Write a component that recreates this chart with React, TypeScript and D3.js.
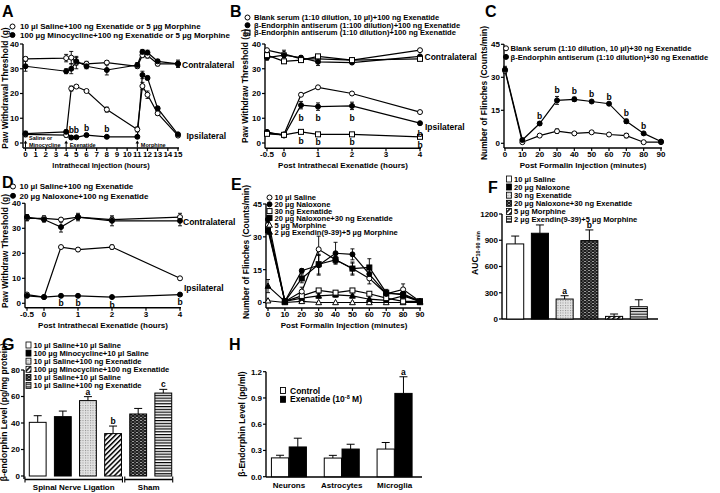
import React from 'react';
import * as d3 from 'd3';

const FONT = "'Liberation Sans', Arial, Helvetica, sans-serif";

// ---------------- Panel A ----------------
const aHours = [0, 4, 4.5, 5, 6, 8, 11, 11.5, 12, 13, 15];
const aSalineContra = [34, 34.3, 34.5, 32.5, 32, 32.5, 31, 35.5, 35.3, 32, 32];
const aSalineContraErr = [0.8, 1.5, 2.5, 2.5, 1, 0.8, 0.8, 1, 1, 0.8, 1.5];
const aMinoContra = [31, 29, 30, 33, 31, 29.5, 31.5, 36.8, 36.5, 33, 32];
const aMinoContraErr = [2, 1, 2, 1.5, 1, 2, 1, 1, 1, 0.8, 1];
const aSalineIpsi = [3.5, 3.2, 22, 22.8, 21, 13.5, 5.5, 23, 19.5, 12, 3];
const aSalineIpsiErr = [1, 0.8, 1, 0.5, 0.5, 1, 1, 1.5, 1.5, 0.8, 0.5];
const aMinoIpsi = [3.8, 4.5, 2.2, 2.3, 3.2, 2.5, 2.5, 27.5, 26.3, 14, 3.5];
const aMinoIpsiErr = [1, 0.8, 0.5, 0.5, 0.5, 0.5, 0.5, 1.5, 0.8, 0.8, 0.5];
const aSigHours = [4.5, 5, 6, 8];
const aSigValues = [2.2, 2.3, 3.2, 2.5];
const aHourTicks = d3.range(0, 16);
const aThresholdTicks = [0, 10, 20, 30, 40];
const aLegend = [
  '10 µl Saline+100 ng Exenatide or 5 µg Morphine',
  '100 µg Minocycline+100 ng Exenatide or 5 µg Morphine',
];
const aInjectionHours = [0, 4, 11];
const aInjectionLabels = [['Saline or', 'Minocycline'], ['Exenatide'], ['Morphine']];

// ---------------- Panel B ----------------
const bHours = [-0.5, 0, 0.5, 1, 2, 4];
const bBlankContra = [37.5, 36, 34, 34, 33.5, 37.5];
const bBlankContraErr = [0.5, 1.5, 0.8, 0.8, 0.5, 0.5];
const bAnti100Contra = [34.5, 35.5, 34.5, 32.8, 32.5, 35];
const bAnti100ContraErr = [1, 1, 0.8, 1.5, 0.5, 0.5];
const bAnti10Contra = [35.5, 33, 33.5, 35, 33.5, 34];
const bAnti10ContraErr = [0.8, 0.8, 0.5, 0.5, 0.5, 0.5];
const bBlankIpsi = [4, 3.5, 19.5, 22.5, 20, 12.5];
const bBlankIpsiErr = [0.5, 0.5, 0.5, 0.5, 0.5, 0.5];
const bAnti100Ipsi = [4.5, 3, 15.3, 14.7, 15, 8];
const bAnti100IpsiErr = [0.5, 0.5, 1.5, 1.5, 1.5, 0.5];
const bAnti10Ipsi = [3.7, 3.3, 4.5, 3.5, 3.5, 2.5];
const bAnti10IpsiErr = [0.5, 0.5, 0.5, 0.5, 0.5, 0.5];
const bSigHours = [0.5, 1, 2, 4];
const bSigFilledAt = [10.2, 10, 10, 3.8];
const bSigSquareAt = [0.8, 0.3, 0.3, -1];
const bHourTicks = [-0.5, 0, 1, 2, 3, 4];
const bThresholdTicks = [0, 10, 20, 30, 40];
const bLegend = [
  'Blank serum (1:10 dilution, 10 µl)+100 ng Exenatide',
  'β-Endorphin antiserum (1:100 dilution)+100 ng Exenatide',
  'β-Endorphin antiserum (1:10 dilution)+100 ng Exenatide',
];

// ---------------- Panel C ----------------
const cMinutes = [0, 10, 20, 30, 40, 50, 60, 70, 80, 90];
const cBlank = [33, 0.5, 3.5, 5.5, 4.5, 5, 4, 3.5, 0.5, 0.5];
const cBlankErr = [1, 0.3, 0.5, 1, 0.5, 0.5, 0.5, 1, 0.3, 0.3];
const cAnti = [33.5, 1.5, 9, 19.5, 20, 19, 18, 10, 4.5, 0.8];
const cAntiErr = [1.5, 0.5, 0.8, 1.8, 1, 0.5, 0.5, 1, 0.5, 0.3];
const cSig = ['', '', 'b', 'b', 'b', 'b', 'b', 'b', 'b', ''];
const cMinuteTicks = [0, 10, 20, 30, 40, 50, 60, 70, 80, 90];
const cFlinchTicks = [0, 15, 30, 45];
const cLegend = [
  'Blank serum (1:10 dilution, 10 µl)+30 ng Exenatide',
  'β-Endorphin antiserum (1:10 dilution)+30 ng Exenatide',
];

// ---------------- Panel D ----------------
const dHours = [-0.5, 0, 0.5, 1, 2, 4];
const dSalineContra = [34, 34, 33.5, 34.5, 33.5, 34.5];
const dSalineContraErr = [1, 1, 0.5, 1, 1, 1.5];
const dNaloxContra = [34.5, 33.5, 30.5, 34.5, 33, 33];
const dNaloxContraErr = [1, 1, 2, 1.5, 2, 2];
const dSalineIpsi = [3.5, 2.5, 22.5, 21.5, 22.5, 10];
const dSalineIpsiErr = [0.5, 0.5, 0.5, 0.8, 0.8, 0.5];
const dNaloxIpsi = [3, 2.5, 3, 3, 2.5, 3.5];
const dNaloxIpsiErr = [0.5, 0.5, 0.4, 0.4, 0.4, 0.4];
const dSigHours = [0.5, 1, 2, 4];
const dHourTicks = [-0.5, 0, 1, 2, 3, 4];
const dThresholdTicks = [0, 10, 20, 30, 40];
const dLegend = ['10 µl Saline+100 ng Exenatide', '20 µg Naloxone+100 ng Exenatide'];

// ---------------- Panel E ----------------
const eMinutes = [0, 10, 20, 30, 40, 50, 60, 70, 80, 90];
const eSaline = [35.4, 0.5, 5, 24.3, 19.5, 15.5, 11, 4, 6, 0.5];
const eSalineErr = [2, 0.3, 2, 6, 1.5, 3, 2.5, 1, 2.5, 0.3];
const eNaloxone = [38, 0.5, 14.5, 17, 22.5, 22, 13, 4, 4, 0.5];
const eNaloxoneErr = [1.5, 0.3, 1, 4.5, 5, 2.5, 2, 1, 1, 0.3];
const eExenatide = [34, 0.5, 3, 5.5, 4.5, 5.5, 4, 2, 0.5, 0.5];
const eExenatideErr = [1, 0.3, 0.8, 0.8, 0.8, 0.8, 0.8, 0.5, 0.3, 0.3];
const eNalExen = [33, 0.5, 11, 17.5, 19.5, 15.5, 16, 4.5, 3.5, 0.5];
const eNalExenErr = [1, 0.3, 2, 4.5, 1.5, 2.5, 4, 1.5, 1, 0.3];
const eMorphine = [0.8, 0, 0.5, 0, 0, 0, 0, 0, 0, 0];
const eMorphineErr = [0.3, 0, 0.3, 0, 0, 0, 0, 0, 0, 0];
const eExendinMorph = [7.5, 0.5, 2, 3, 3.5, 3, 1.5, 1, 3, 0.5];
const eExendinMorphErr = [3, 0.3, 0.5, 1, 1, 0.8, 0.5, 0.5, 1, 0.3];
const eMinuteTicks = [0, 10, 20, 30, 40, 50, 60, 70, 80, 90];
const eFlinchTicks = [0, 15, 30, 45];
const eLegend = [
  '10 µl Saline',
  '20 µg Naloxone',
  '30 ng Exenatide',
  '20 µg Naloxone+30 ng Exenatide',
  '5 µg Morphine',
  '2 µg Exendin(9-39)+5 µg Morphine',
];

// ---------------- Panel F ----------------
const fGroups = [
  '10 µl Saline',
  '20 µg Naloxone',
  '30 ng Exenatide',
  '20 µg Naloxone+30 ng Exenatide',
  '5 µg Morphine',
  '2 µg Exendin(9-39)+5 µg Morphine',
];
const fAUC = [858, 980, 228, 896, 30, 140];
const fAUCErr = [90, 95, 38, 122, 27, 80];
const fSig = ['', '', 'a', 'b', '', ''];
const fTicks = [0, 300, 600, 900, 1200];

// ---------------- Panel G ----------------
const gGroups = [
  '10 µl Saline+10 µl Saline',
  '100 µg Minocycline+10 µl Saline',
  '10 µl Saline+100 ng Exenatide',
  '100 µg Minocycline+100 ng Exenatide',
  '10 µl Saline+10 µl Saline ',
  '10 µl Saline+100 ng Exenatide ',
];
const gLevel = [40.5, 44.8, 56.9, 32, 46.8, 62.6];
const gLevelErr = [5, 4.2, 3, 5.7, 4.2, 2.8];
const gSig = ['', '', 'a', 'b', '', 'c'];
const gTicks = [0, 20, 40, 60, 80];
const gConditions = ['Spinal Nerve Ligation', 'Sham'];
const gConditionSpans = [[0, 3], [4, 5]];

// ---------------- Panel H ----------------
const hCells = ['Neurons', 'Astrocytes', 'Microglia'];
const hTreatments = ['Control', 'Exenatide'];
const hControl = [0.215, 0.213, 0.316];
const hControlErr = [0.03, 0.031, 0.075];
const hExenatide = [0.34, 0.316, 0.952];
const hExenatideErr = [0.1, 0.055, 0.19];
const hExenatideSig = ['', '', 'a'];
const hTicks = [0, 0.3, 0.6, 0.9, 1.2];

type Scale = (v: number) => number;
type MarkerType = 'oc' | 'fc' | 'os' | 'fs' | 'ot' | 'ft';

function Marker({ type, x, y }: { type: MarkerType; x: number; y: number }) {
  const r = 2.5;
  const fill = type[0] === 'f' ? '#000' : '#fff';
  const p = { fill, stroke: '#000', strokeWidth: 1 };
  if (type[1] === 'c') return <circle cx={x} cy={y} r={r} {...p} />;
  if (type[1] === 's') return <rect x={x - r} y={y - r} width={2 * r} height={2 * r} {...p} />;
  return <path d={`M${x},${y - r - 0.6}L${x + r + 0.4},${y + r - 0.3}L${x - r - 0.4},${y + r - 0.3}Z`} {...p} />;
}

function ErrorBars({ xs, ys, errs, x, y }: any) {
  return (
    <g stroke="#000" strokeWidth={0.9}>
      {ys.map((v: number, i: number) => {
        const e = errs[i];
        if (!e) return null;
        const cx = x(xs[i]);
        const t = y(v + e);
        const b = y(v - e);
        return (
          <g key={i}>
            <line x1={cx} x2={cx} y1={t} y2={b} />
            <line x1={cx - 2} x2={cx + 2} y1={t} y2={t} />
            <line x1={cx - 2} x2={cx + 2} y1={b} y2={b} />
          </g>
        );
      })}
    </g>
  );
}

function SeriesLine({ xs, ys, x, y }: any) {
  const d = d3.line<number>().x((_, i) => x(xs[i])).y((v) => y(v))(ys) || '';
  return <path d={d} fill="none" stroke="#000" strokeWidth={1.2} />;
}

function SeriesMarkers({ xs, ys, x, y, marker }: any) {
  return (
    <g>
      {ys.map((v: number, i: number) => (
        <Marker key={i} type={marker} x={x(xs[i])} y={y(v)} />
      ))}
    </g>
  );
}

function LineGroup({ series, x, y }: { series: any[]; x: Scale; y: Scale }) {
  return (
    <g>
      {series.map((s, i) => (
        <ErrorBars key={'e' + i} xs={s.xs} ys={s.ys} errs={s.errs} x={x} y={y} />
      ))}
      {series.map((s, i) => (
        <SeriesLine key={'l' + i} xs={s.xs} ys={s.ys} x={x} y={y} />
      ))}
      {series.map((s, i) => (
        <SeriesMarkers key={'m' + i} xs={s.xs} ys={s.ys} x={x} y={y} marker={s.marker} />
      ))}
    </g>
  );
}

function YAxis({ x, scale, ticks, top, bottom, fmt }: any) {
  return (
    <g>
      <line x1={x} x2={x} y1={top} y2={bottom} stroke="#000" strokeWidth={1.4} />
      {ticks.map((t: number) => (
        <g key={t}>
          <line x1={x - 3} x2={x} y1={scale(t)} y2={scale(t)} stroke="#000" strokeWidth={1.2} />
          <text x={x - 4} y={scale(t) + 2.9} textAnchor="end" fontSize={8}>
            {fmt ? fmt(t) : String(t)}
          </text>
        </g>
      ))}
    </g>
  );
}

function XAxis({ y, scale, ticks, left, right, fmt, labelY }: any) {
  return (
    <g>
      <line x1={left} x2={right} y1={y} y2={y} stroke="#000" strokeWidth={1.4} />
      {ticks.map((t: number) => (
        <g key={t}>
          <line x1={scale(t)} x2={scale(t)} y1={y} y2={y + 3} stroke="#000" strokeWidth={1.2} />
          <text x={scale(t)} y={labelY} textAnchor="middle" fontSize={8}>
            {fmt ? fmt(t) : String(t)}
          </text>
        </g>
      ))}
    </g>
  );
}

function VTitle({ x, y, children, size = 8.5 }: any) {
  return (
    <text transform={`translate(${x},${y}) rotate(-90)`} textAnchor="middle" fontSize={size}>
      {children}
    </text>
  );
}

function Legend({ items, markers, x, ys, textX, size = 8 }: any) {
  return (
    <g>
      {items.map((t: string, i: number) => (
        <g key={i}>
          <Marker type={markers[i]} x={x} y={ys[i]} />
          <text x={textX} y={ys[i] + 2.8} fontSize={size}>
            {t}
          </text>
        </g>
      ))}
    </g>
  );
}

function BarLegend({ items, fills, x, ys, size = 7.6 }: any) {
  return (
    <g>
      {items.map((t: string, i: number) => (
        <g key={i}>
          <rect x={x} y={ys[i] - 3} width={5} height={6} fill={fills[i]} stroke="#000" strokeWidth={0.8} />
          <text x={x + 7.5} y={ys[i] + 2.8} fontSize={size}>
            {t.trim()}
          </text>
        </g>
      ))}
    </g>
  );
}

const PanelLabel = ({ x, y, t }: any) => (
  <text x={x} y={y} fontSize={16}>
    {t}
  </text>
);

export default function App() {
  const ax = d3.scaleLinear().domain([0, 15]).range([25.5, 178]);
  const ay = d3.scaleLinear().domain([0, 40]).range([143, 44]);
  const bx = d3.scaleLinear().domain([-0.5, 4]).range([267, 420]);
  const by = d3.scaleLinear().domain([0, 40]).range([143, 44]);
  const cx = d3.scaleLinear().domain([0, 90]).range([505, 661]);
  const cy = d3.scaleLinear().domain([0, 45]).range([143.3, 44.3]);
  const dx = d3.scaleLinear().domain([-0.5, 4]).range([27, 180]);
  const dy = d3.scaleLinear().domain([0, 40]).range([303.3, 203.3]);
  const ex = d3.scaleLinear().domain([0, 90]).range([268, 420]);
  const ey = d3.scaleLinear().domain([0, 45]).range([302.5, 204]);
  const fx = d3.scaleBand<string>().domain(fGroups).range([499, 655]).padding(0.31);
  const fy = d3.scaleLinear().domain([0, 1200]).range([319, 214]);
  const gx = d3.scaleBand<string>().domain(gGroups).range([21, 180]).padding(0.33);
  const gy = d3.scaleLinear().domain([0, 80]).range([476, 370]);
  const hx = d3.scaleBand<string>().domain(hCells).range([262.5, 421]);
  const hsub = d3.scaleBand<string>().domain(hTreatments).range([-17.5, 17.5]).paddingInner(0.03);
  const hy = d3.scaleLinear().domain([0, 1.2]).range([476.7, 371.7]);

  const fFills = ['#fff', '#000', 'url(#pDots)', 'url(#pCheck)', 'url(#pDiag)', 'url(#pHStripe)'];
  const gFills = ['#fff', '#000', 'url(#pDots)', 'url(#pDiag)', 'url(#pCheck)', 'url(#pHStripe)'];

  const aSeries = [
    { xs: aHours, ys: aSalineContra, errs: aSalineContraErr, marker: 'oc' },
    { xs: aHours, ys: aMinoContra, errs: aMinoContraErr, marker: 'fc' },
    { xs: aHours, ys: aSalineIpsi, errs: aSalineIpsiErr, marker: 'oc' },
    { xs: aHours, ys: aMinoIpsi, errs: aMinoIpsiErr, marker: 'fc' },
  ];
  const bSeries = [
    { xs: bHours, ys: bBlankContra, errs: bBlankContraErr, marker: 'oc' },
    { xs: bHours, ys: bAnti100Contra, errs: bAnti100ContraErr, marker: 'fc' },
    { xs: bHours, ys: bAnti10Contra, errs: bAnti10ContraErr, marker: 'os' },
    { xs: bHours, ys: bBlankIpsi, errs: bBlankIpsiErr, marker: 'oc' },
    { xs: bHours, ys: bAnti100Ipsi, errs: bAnti100IpsiErr, marker: 'fc' },
    { xs: bHours, ys: bAnti10Ipsi, errs: bAnti10IpsiErr, marker: 'os' },
  ];
  const cSeries = [
    { xs: cMinutes, ys: cBlank, errs: cBlankErr, marker: 'oc' },
    { xs: cMinutes, ys: cAnti, errs: cAntiErr, marker: 'fc' },
  ];
  const dSeries = [
    { xs: dHours, ys: dSalineContra, errs: dSalineContraErr, marker: 'oc' },
    { xs: dHours, ys: dNaloxContra, errs: dNaloxContraErr, marker: 'fc' },
    { xs: dHours, ys: dSalineIpsi, errs: dSalineIpsiErr, marker: 'oc' },
    { xs: dHours, ys: dNaloxIpsi, errs: dNaloxIpsiErr, marker: 'fc' },
  ];
  const eSeries = [
    { xs: eMinutes, ys: eMorphine, errs: eMorphineErr, marker: 'ot' },
    { xs: eMinutes, ys: eExendinMorph, errs: eExendinMorphErr, marker: 'ft' },
    { xs: eMinutes, ys: eExenatide, errs: eExenatideErr, marker: 'os' },
    { xs: eMinutes, ys: eSaline, errs: eSalineErr, marker: 'oc' },
    { xs: eMinutes, ys: eNalExen, errs: eNalExenErr, marker: 'fs' },
    { xs: eMinutes, ys: eNaloxone, errs: eNaloxoneErr, marker: 'fc' },
  ];

  return (
    <svg
      width={720}
      height={493}
      viewBox="0 0 720 493"
      style={{ position: 'absolute', left: 0, top: 0, background: '#fff' }}
      fontFamily={FONT}
      fontWeight="bold"
    >
      <defs>
        <pattern id="pDots" width="2.5" height="2.5" patternUnits="userSpaceOnUse">
          <rect width="2.5" height="2.5" fill="#e2e2e2" />
          <rect width="1" height="1" fill="#8c8c8c" />
        </pattern>
        <pattern id="pCheck" width="4" height="3" patternUnits="userSpaceOnUse">
          <rect width="4" height="3" fill="#1e1e1e" />
          <rect x="0" y="0" width="2" height="1" fill="#9a9a9a" />
          <rect x="2" y="1.5" width="2" height="1" fill="#6e6e6e" />
        </pattern>
        <pattern id="pDiag" width="3.5" height="3.5" patternUnits="userSpaceOnUse" patternTransform="rotate(45)">
          <rect width="3.5" height="3.5" fill="#fff" />
          <rect width="1.5" height="3.5" fill="#000" />
        </pattern>
        <pattern id="pHStripe" width="4" height="2.8" patternUnits="userSpaceOnUse">
          <rect width="4" height="2.8" fill="#fff" />
          <rect width="4" height="1.2" fill="#000" />
        </pattern>
      </defs>
      <rect width={720} height={493} fill="#fff" />

      {/* ================= Panel A ================= */}
      <PanelLabel x={2} y={17} t="A" />
      <Legend items={aLegend} markers={['oc', 'fc']} x={12.5} ys={[26.5, 35]} textX={20} />
      <YAxis x={23} scale={ay} ticks={aThresholdTicks} top={44} bottom={148} />
      <XAxis y={148} scale={ax} ticks={aHourTicks} left={23} right={179} labelY={157.3} />
      <text x={101} y={167.5} textAnchor="middle" fontSize={7.4}>Intrathecal Injection (hours)</text>
      <VTitle x={8} y={88}>Paw Withdrawal Threshold (g)</VTitle>
      <LineGroup series={aSeries} x={ax} y={ay} />
      {aSigHours.map((h, i) => (
        <text key={i} x={ax(h)} y={ay(aSigValues[i]) - 4.5} textAnchor="middle" fontSize={8.5}>b</text>
      ))}
      {aInjectionHours.map((h, i) => (
        <g key={i}>
          <line x1={ax(h)} x2={ax(h)} y1={147.5} y2={142} stroke="#000" strokeWidth={1} />
          <path d={`M${ax(h)},${140.5}L${ax(h) + 1.8},${143.5}L${ax(h) - 1.8},${143.5}Z`} fill="#000" />
          {aInjectionLabels[i].map((l, j) => (
            <text key={j} x={ax(h) + 3.5} y={aInjectionLabels[i].length === 2 ? 139.5 + j * 7.5 : 146.8} fontSize={5.5}>
              {l}
            </text>
          ))}
        </g>
      ))}
      <text x={182} y={68} fontSize={8.5}>Contralateral</text>
      <text x={186.5} y={139} fontSize={8.5}>Ipsilateral</text>

      {/* ================= Panel B ================= */}
      <PanelLabel x={230} y={17} t="B" />
      <Legend items={bLegend} markers={['oc', 'fc', 'os']} x={247.5} ys={[17.5, 25.2, 32.6]} textX={254} size={7.6} />
      <YAxis x={265} scale={by} ticks={bThresholdTicks} top={44} bottom={148.3} />
      <XAxis y={148.3} scale={bx} ticks={bHourTicks} left={265} right={421} labelY={157.3} />
      <text x={343} y={167.5} textAnchor="middle" fontSize={8}>Post Intrathecal Exenatide (hours)</text>
      <VTitle x={247.5} y={86}>Paw Withdraw Threshold (g)</VTitle>
      <LineGroup series={bSeries} x={bx} y={by} />
      {bSigHours.map((h, i) => (
        <g key={i}>
          <text x={bx(h)} y={by(bSigFilledAt[i]) + 3} textAnchor="middle" fontSize={8.5}>b</text>
          <text x={bx(h)} y={by(bSigSquareAt[i]) + 3} textAnchor="middle" fontSize={8.5}>b</text>
        </g>
      ))}
      <text x={424.5} y={60} fontSize={8.5}>Contralateral</text>
      <text x={425} y={130} fontSize={8.5}>Ipsilateral</text>

      {/* ================= Panel C ================= */}
      <PanelLabel x={485} y={17} t="C" />
      <YAxis x={504} scale={cy} ticks={cFlinchTicks} top={44.3} bottom={148} />
      <XAxis y={148} scale={cx} ticks={cMinuteTicks} left={504} right={662} labelY={157.3} />
      <text x={583} y={167.5} textAnchor="middle" fontSize={8}>Post Formalin Injection (minutes)</text>
      <VTitle x={486.5} y={93}>Number of Flinches (Counts/min)</VTitle>
      <LineGroup series={cSeries} x={cx} y={cy} />
      <Legend items={cLegend} markers={['oc', 'fc']} x={506} ys={[48.3, 56.9]} textX={510.5} size={7.6} />
      {cSig.map((s, i) =>
        s ? (
          <text key={i} x={cx(cMinutes[i])} y={cy(cAnti[i] + cAntiErr[i]) - 3} textAnchor="middle" fontSize={8.5}>
            {s}
          </text>
        ) : null
      )}

      {/* ================= Panel D ================= */}
      <PanelLabel x={2} y={188} t="D" />
      <Legend items={dLegend} markers={['oc', 'fc']} x={13} ys={[186.5, 195.8]} textX={19.5} />
      <YAxis x={25} scale={dy} ticks={dThresholdTicks} top={203.3} bottom={307.7} />
      <XAxis y={307.7} scale={dx} ticks={dHourTicks} left={25} right={181} labelY={317.3} />
      <text x={103} y={327.5} textAnchor="middle" fontSize={8}>Post Intrathecal Exenatide (hours)</text>
      <VTitle x={8} y={251}>Paw Withdraw Threshold (g)</VTitle>
      <LineGroup series={dSeries} x={dx} y={dy} />
      {dSigHours.map((h, i) => (
        <text key={i} x={dx(h)} y={dy(dNaloxIpsi[dHours.indexOf(h)]) + 10.5} textAnchor="middle" fontSize={8.5}>b</text>
      ))}
      <text x={183} y={224.7} fontSize={8.5}>Contralateral</text>
      <text x={184} y={290.7} fontSize={8.5}>Ipsilateral</text>

      {/* ================= Panel E ================= */}
      <PanelLabel x={231} y={190} t="E" />
      <YAxis x={266} scale={ey} ticks={eFlinchTicks} top={204} bottom={308} />
      <XAxis y={308} scale={ex} ticks={eMinuteTicks} left={266} right={421} labelY={317.3} />
      <text x={344} y={327.5} textAnchor="middle" fontSize={8}>Post Formalin Injection (minutes)</text>
      <VTitle x={248.5} y={252}>Number of Flinches (Counts/min)</VTitle>
      <LineGroup series={eSeries} x={ex} y={ey} />
      <Legend
        items={eLegend}
        markers={['oc', 'fc', 'os', 'fs', 'ot', 'ft']}
        x={269.5}
        ys={[197.5, 204.3, 211.1, 217.9, 225, 232]}
        textX={274.5}
        size={7.6}
      />

      {/* ================= Panel F ================= */}
      <PanelLabel x={488} y={193} t="F" />
      <BarLegend items={fGroups} fills={fFills} x={506.5} ys={[179, 187, 195.2, 203.3, 211.4, 219.3]} />
      <YAxis x={502} scale={fy} ticks={fTicks} top={214} bottom={319} />
      <line x1={502} x2={658} y1={319} y2={319} stroke="#000" strokeWidth={1.4} />
      <text transform="translate(478,253) rotate(-90)" textAnchor="middle" fontSize={8.5}>
        AUC<tspan fontSize={5.5} dy={2}>10-90 min</tspan>
      </text>
      {fGroups.map((g, i) => {
        const x0 = fx(g) as number;
        const w = fx.bandwidth();
        const top = fy(fAUC[i]);
        const et = fy(fAUC[i] + fAUCErr[i]);
        const c = x0 + w / 2;
        return (
          <g key={i}>
            <line x1={c} x2={c} y1={top} y2={et} stroke="#000" strokeWidth={1} />
            <line x1={c - 4} x2={c + 4} y1={et} y2={et} stroke="#000" strokeWidth={1} />
            <rect x={x0} y={top} width={w} height={fy(0) - top} fill={fFills[i]} stroke="#000" strokeWidth={1} />
            {fSig[i] && (
              <text x={c} y={et - 2} textAnchor="middle" fontSize={8.5}>
                {fSig[i]}
              </text>
            )}
          </g>
        );
      })}

      {/* ================= Panel G ================= */}
      <PanelLabel x={2} y={350} t="G" />
      <BarLegend items={gGroups} fills={gFills} x={26} ys={[345, 353.1, 361.2, 369.3, 377.4, 385.5]} />
      <YAxis x={24} scale={gy} ticks={gTicks} top={370} bottom={479} />
      <VTitle x={7} y={412}>β-endorphin Level (pg/mg protein)</VTitle>
      {gGroups.map((g, i) => {
        const x0 = gx(g) as number;
        const w = gx.bandwidth();
        const top = gy(gLevel[i]);
        const et = gy(gLevel[i] + gLevelErr[i]);
        const c = x0 + w / 2;
        return (
          <g key={i}>
            <line x1={c} x2={c} y1={top} y2={et} stroke="#000" strokeWidth={1} />
            <line x1={c - 4} x2={c + 4} y1={et} y2={et} stroke="#000" strokeWidth={1} />
            <rect x={x0} y={top} width={w} height={gy(0) - top} fill={gFills[i]} stroke="#000" strokeWidth={1} />
            {gSig[i] && (
              <text x={c} y={et - 2} textAnchor="middle" fontSize={8.5}>
                {gSig[i]}
              </text>
            )}
          </g>
        );
      })}
      {gConditions.map((name, i) => {
        const [s, e] = gConditionSpans[i];
        const l = i === 0 ? 25 : (gx(gGroups[s]) as number) - 5;
        const r = (gx(gGroups[e]) as number) + gx.bandwidth() + 1;
        return (
          <g key={i}>
            <line x1={l} x2={r} y1={479.5} y2={479.5} stroke="#000" strokeWidth={1.3} />
            <line x1={l} x2={l} y1={476.5} y2={482.5} stroke="#000" strokeWidth={1.1} />
            <line x1={r} x2={r} y1={476.5} y2={482.5} stroke="#000" strokeWidth={1.1} />
            <text x={(l + r) / 2} y={490} textAnchor="middle" fontSize={8}>
              {name}
            </text>
          </g>
        );
      })}

      {/* ================= Panel H ================= */}
      <PanelLabel x={229} y={350} t="H" />
      <YAxis x={266} scale={hy} ticks={hTicks} top={371.7} bottom={477} fmt={(t: number) => t.toFixed(1)} />
      <line x1={266} x2={422} y1={477} y2={477} stroke="#000" strokeWidth={1.4} />
      <VTitle x={245} y={424}>β-Endorphin Level (pg/ml)</VTitle>
      {hCells.map((cell, i) => {
        const gc = (hx(cell) as number) + hx.bandwidth() / 2;
        const vals = [hControl[i], hExenatide[i]];
        const errs = [hControlErr[i], hExenatideErr[i]];
        return (
          <g key={i}>
            {hTreatments.map((t, j) => {
              const x0 = gc + (hsub(t) as number);
              const w = hsub.bandwidth();
              const top = hy(vals[j]);
              const et = hy(vals[j] + errs[j]);
              const c = x0 + w / 2;
              return (
                <g key={j}>
                  <line x1={c} x2={c} y1={top} y2={et} stroke="#000" strokeWidth={1} />
                  <line x1={c - 4} x2={c + 4} y1={et} y2={et} stroke="#000" strokeWidth={1} />
                  <rect x={x0} y={top} width={w} height={hy(0) - top} fill={j === 0 ? '#fff' : '#000'} stroke="#000" strokeWidth={1} />
                  {j === 1 && hExenatideSig[i] && (
                    <text x={c} y={et - 2} textAnchor="middle" fontSize={8.5}>
                      {hExenatideSig[i]}
                    </text>
                  )}
                </g>
              );
            })}
            <text x={gc} y={488} textAnchor="middle" fontSize={8}>
              {cell}
            </text>
          </g>
        );
      })}
      <g>
        <rect x={280.5} y={387.5} width={5} height={6} fill="#fff" stroke="#000" strokeWidth={0.9} />
        <text x={290} y={393.5} fontSize={8.5}>Control</text>
        <rect x={280.5} y={396.3} width={5} height={6} fill="#000" stroke="#000" strokeWidth={0.9} />
        <text x={290} y={402.3} fontSize={8.5}>
          Exenatide (10<tspan fontSize={5.5} dy={-3}>-8</tspan>
          <tspan dy={3}> M)</tspan>
        </text>
      </g>
    </svg>
  );
}
